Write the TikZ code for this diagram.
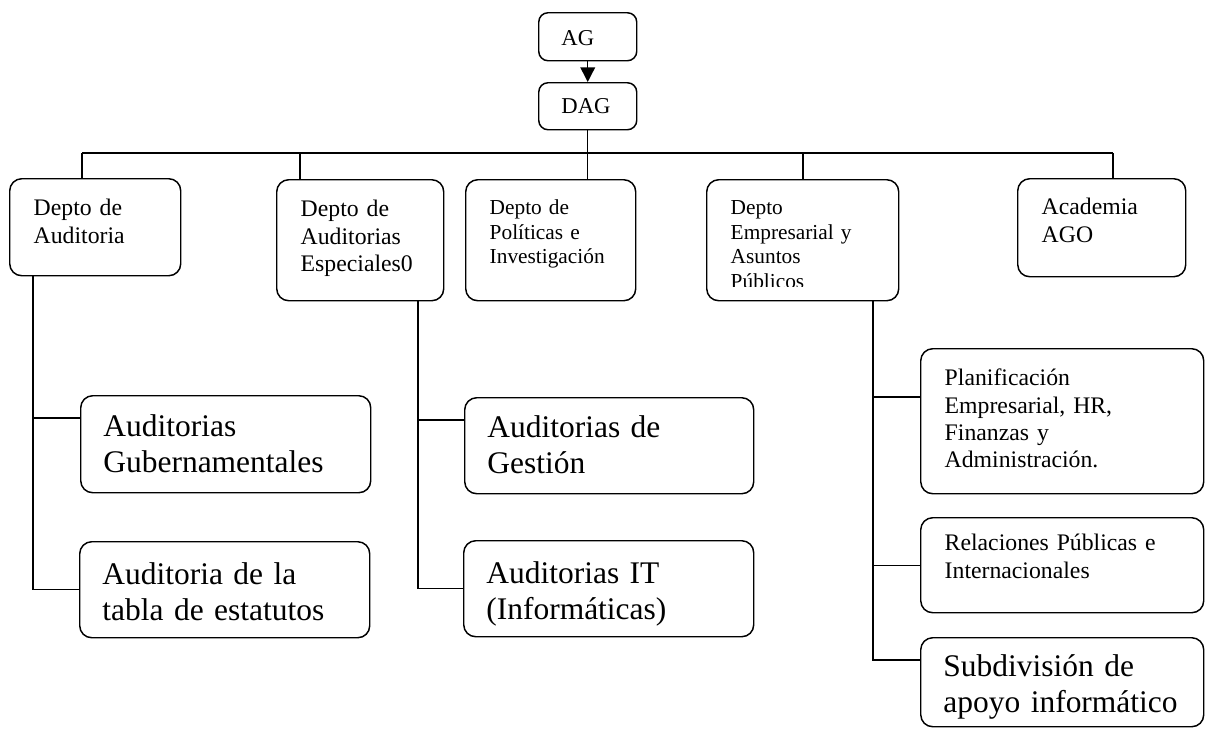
\documentclass[tikz,border=0pt]{standalone}
\usepackage{fontspec}
\setmainfont{Liberation Serif}
\usetikzlibrary{arrows.meta}

\begin{document}
\begin{tikzpicture}[x=0.75pt,y=-0.75pt,>={Triangle[length=11pt,width=11pt]},
                    line width=1.1pt]
	\tikzstyle{box}=[draw,rounded corners=9pt,anchor=north west,align=left,inner ysep=0pt,inner xsep=18pt]
	\tikzstyle{head}=[box,rounded corners=7pt,inner xsep=17pt,font=\fontsize{17}{20}\selectfont]
	\tikzstyle{dept}=[box,font=\fontsize{17.8}{20.5}\selectfont]
	\tikzstyle{deptsm}=[box,font=\fontsize{16}{18.4}\selectfont]
	\tikzstyle{subunit}=[box,inner xsep=17pt,font=\fontsize{23.6}{27}\selectfont]

	\useasboundingbox (0,0) rectangle (1206,728);

	% top
	\node[head,text width=39.5pt,text height=24.75pt,text depth=11.25pt] (ag) at (538,12) {AG};
	\node[head,text width=39.5pt,text height=23.25pt,text depth=12pt] (dag) at (538,82) {DAG};

	% departments
	\node[dept,text width=92.25pt,text height=27.75pt,text depth=45pt] (aud) at (9,178) {Depto de\\Auditoria};
	\node[dept,text width=89.25pt,text height=27.75pt,text depth=63pt] (esp) at (276,179) {Depto de\\Auditorias\\Especiales0};
	\node[deptsm,text width=91.5pt,text height=26.25pt,text depth=64.5pt] (pol) at (465,179) {Depto de\\Políticas e\\Investigación};
	\node[deptsm,text width=108pt,text height=26.25pt,text depth=64.5pt] (emp) at (706,179) {};
	\begin{scope}
		\clip (emp.north west) rectangle (898,286);
		\node[deptsm,draw=none,text width=108pt,text height=26.25pt] (emp-t) at (emp.north west) {Depto\\Empresarial y\\Asuntos\\Públicos};
	\end{scope}
	\node[dept,text width=90pt,text height=27pt,text depth=46.5pt] (aca) at (1017,178) {Academia\\AGO};

	% units
	\node[subunit,text width=183.5pt,text height=30.75pt,text depth=42pt] (gub) at (80,395) {Auditorias\\Gubernamentales};
	\node[subunit,text width=183.5pt,text height=32.25pt,text depth=39.75pt] (tab) at (79,541) {Auditoria de la\\tabla de estatutos};
	\node[subunit,text width=182.75pt,text height=30pt,text depth=42pt] (ges) at (464,397) {Auditorias de\\Gestión};
	\node[subunit,text width=183.5pt,text height=32.25pt,text depth=39.75pt] (ait) at (463,540) {Auditorias IT\\(Informáticas)};
	\node[dept,text width=176.25pt,text height=27.75pt,text depth=81pt] (pla) at (920,348) {Planificación\\Empresarial, HR,\\Finanzas y\\Administración.};
	\node[dept,text width=176.25pt,text height=24.75pt,text depth=46.5pt] (rel) at (920,517) {Relaciones Públicas e\\Internacionales};
	\node[subunit,text width=178.25pt,text height=29.25pt,text depth=37.5pt] (sub) at (920,637) {Subdivisión de\\apoyo informático};

	% connectors
	\coordinate (b1) at (82,153);
	\coordinate (b2) at (300,153);
	\coordinate (b4) at (803,153);
	\coordinate (b5) at (1113,153);
	\coordinate (t1) at (33,275);
	\coordinate (t2) at (418,300);
	\coordinate (t3) at (873,300);

	\draw[->] (ag) -- (dag);
	\draw (dag) -- (dag |- pol.north);
	\draw (b1) -- (b5);
	\foreach \c/\n in {b1/aud,b2/esp,b4/emp,b5/aca}
		\draw (\c) -- (\c |- \n.north);

	\draw (t1) |- (tab.west);
	\draw ([yshift=-17.25pt]gub.north west) -| (t1);
	\draw (t2) |- (ait.west);
	\draw ([yshift=-17.25pt]ges.north west) -| (t2);
	\draw (t3) |- ([yshift=-17.25pt]sub.north west);
	\draw ([yshift=-36.75pt]pla.north west) -| (t3);
	\draw (rel.west) -| (t3);
\end{tikzpicture}
\end{document}
